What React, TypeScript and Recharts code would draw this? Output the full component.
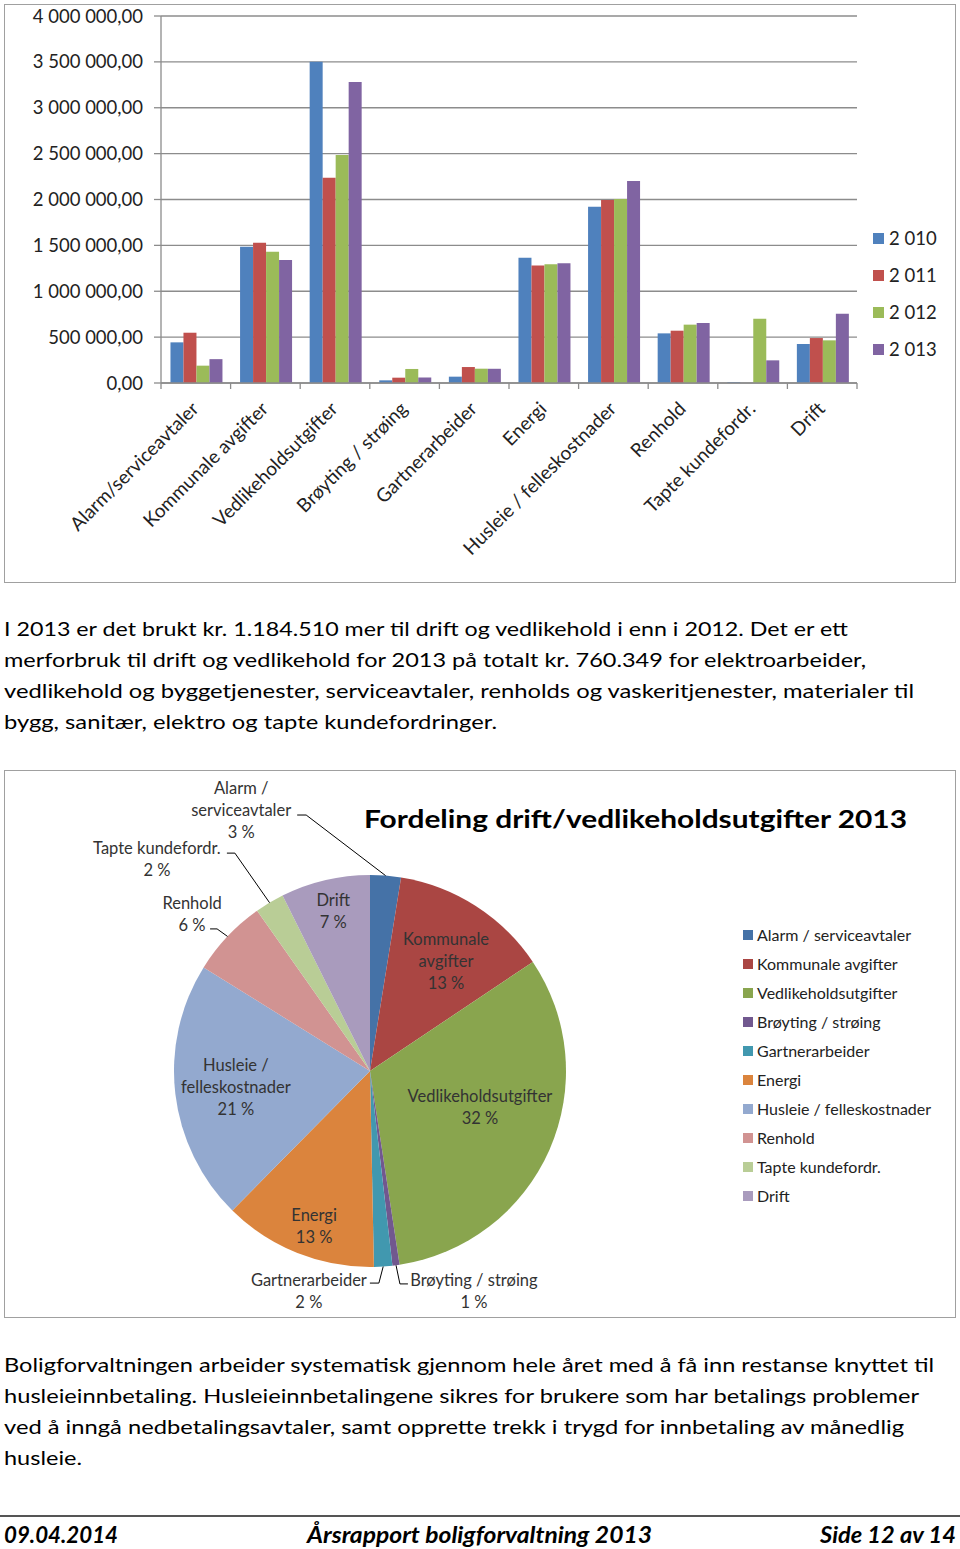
import React from 'react';
import { BarChart, Bar, XAxis, YAxis, CartesianGrid, PieChart, Pie, Cell } from 'recharts';

// ---------- DATA ----------
const categories = [
  'Alarm/serviceavtaler',
  'Kommunale avgifter',
  'Vedlikeholdsutgifter',
  'Brøyting / strøing',
  'Gartnerarbeider',
  'Energi',
  'Husleie / felleskostnader',
  'Renhold',
  'Tapte kundefordr.',
  'Drift',
];
const years = ['2 010', '2 011', '2 012', '2 013'];
const values2010 = [443000, 1486000, 3502000, 29000, 69000, 1366000, 1922000, 541000, 10000, 425000];
const values2011 = [548000, 1529000, 2238000, 58000, 174000, 1282000, 1995000, 570000, 0, 490000];
const values2012 = [189000, 1431000, 2485000, 153000, 156000, 1293000, 2005000, 636000, 701000, 465000];
const values2013 = [260000, 1341000, 3281000, 60000, 155000, 1304000, 2202000, 654000, 247000, 755000];
const yTicks = [0, 500000, 1000000, 1500000, 2000000, 2500000, 3000000, 3500000, 4000000];

const pieNames = [
  'Alarm / serviceavtaler',
  'Kommunale avgifter',
  'Vedlikeholdsutgifter',
  'Brøyting / strøing',
  'Gartnerarbeider',
  'Energi',
  'Husleie / felleskostnader',
  'Renhold',
  'Tapte kundefordr.',
  'Drift',
];
const pieLabelText = [
  ['Alarm /', 'serviceavtaler'],
  ['Kommunale', 'avgifter'],
  ['Vedlikeholdsutgifter'],
  ['Brøyting / strøing'],
  ['Gartnerarbeider'],
  ['Energi'],
  ['Husleie /', 'felleskostnader'],
  ['Renhold'],
  ['Tapte kundefordr.'],
  ['Drift'],
];
const pieTitle = 'Fordeling drift/vedlikeholdsutgifter 2013';

const paragraph1 = [
  'I 2013 er det brukt kr. 1.184.510 mer til drift og vedlikehold i enn i 2012. Det er ett',
  'merforbruk til drift og vedlikehold for 2013 på totalt kr. 760.349 for elektroarbeider,',
  'vedlikehold og byggetjenester, serviceavtaler, renholds og vaskeritjenester, materialer til',
  'bygg, sanitær, elektro og tapte kundefordringer.',
];
const paragraph2 = [
  'Boligforvaltningen arbeider systematisk gjennom hele året med å få inn restanse knyttet til',
  'husleieinnbetaling. Husleieinnbetalingene sikres for brukere som har betalings problemer',
  'ved å inngå nedbetalingsavtaler, samt opprette trekk i trygd for innbetaling av månedlig',
  'husleie.',
];
const footerTexts = ['09.04.2014', 'Årsrapport boligforvaltning 2013', 'Side 12 av 14'];

// ---------- STYLE / LAYOUT ----------
const FONT = 'Lato, "Noto Sans", sans-serif';
const barColors = ['#4F81BD', '#C0504D', '#9BBB59', '#8064A2'];
const pieColors = ['#4572A7', '#AA4643', '#89A54E', '#71588F', '#4198AF', '#DB843D', '#93A9CF', '#D19392', '#B9CD96', '#A99BBD'];
const GRID = '#8c8c8c';
const BAR_W = 960;
const BAR_H = 590;
const Y_AXIS_W = 161;
const BAR_MARGIN = { top: 16, right: 103, bottom: 0, left: 0 };
const PLOT_W = BAR_W - Y_AXIS_W - BAR_MARGIN.right - BAR_MARGIN.left;
const X_AXIS_H = 207;
const PIE_TOP = 770;
const PIE_R = 196;
const RAD = Math.PI / 180;
const LABEL_LH = 22;

const para1Layout = { x: 4, y0: 636, lh: 31, widths: [844, 862, 910, 493] };
const para2Layout = { x: 4, y0: 1372, lh: 31, widths: [930, 915, 900, 78] };

// label layout for the pie (angles clockwise from 12 o'clock)
type LabelCfg =
  | { kind: 'in'; rf: number; da: number }
  | { kind: 'out'; ang: number; rf: number; hook: number; dx: number; dy: number };
const pieLabelLayout: LabelCfg[] = [
  { kind: 'out', ang: 346, rf: 1.346, hook: -9, dx: -65, dy: -5 },
  { kind: 'in', rf: 0.682, da: 2 },
  { kind: 'in', rf: 0.59, da: -5.7 },
  { kind: 'out', ang: 172, rf: 1.097, hook: 8, dx: 74, dy: 7 },
  { kind: 'out', ang: 177.6, rf: 1.083, hook: -9, dx: -70, dy: 8 },
  { kind: 'in', rf: 0.84, da: -1.9 },
  { kind: 'in', rf: 0.689, da: 0 },
  { kind: 'out', ang: 312.9, rf: 1.065, hook: -7, dx: -25, dy: -15 },
  { kind: 'out', ang: 328.2, rf: 1.308, hook: -8, dx: -78, dy: 6 },
  { kind: 'in', rf: 0.838, da: 0.3 },
];

const barData = categories.map((name, i) => ({
  name,
  y2010: values2010[i],
  y2011: values2011[i],
  y2012: values2012[i],
  y2013: values2013[i],
}));
const seriesKeys = ['y2010', 'y2011', 'y2012', 'y2013'];
const pieData = pieNames.map((name, i) => ({ name, value: values2013[i] }));

const fmt = (v: number) => {
  const [i, d] = v.toFixed(2).split('.');
  return i.replace(/\B(?=(\d{3})+(?!\d))/g, ' ') + ',' + d;
};

const XTick = (props: any) => {
  const { x, y, payload, index } = props;
  const bw = PLOT_W / categories.length;
  const ax = x + 4;
  const ay = y + 27;
  return (
    <g>
      <line x1={x - bw / 2} x2={x - bw / 2} y1={y} y2={y + 6} stroke={GRID} strokeWidth={1.3} />
      {index === categories.length - 1 && (
        <line x1={x + bw / 2} x2={x + bw / 2} y1={y} y2={y + 6} stroke={GRID} strokeWidth={1.3} />
      )}
      <text
        x={ax}
        y={ay}
        transform={`rotate(-45 ${ax} ${ay})`}
        textAnchor="end"
        fontSize={19}
        fontFamily={FONT}
        fill="#222"
      >
        {payload.value}
      </text>
    </g>
  );
};

const renderPieLabel = (props: any) => {
  const { cx, cy, midAngle, outerRadius, percent, index } = props;
  const cfg = pieLabelLayout[index];
  const lines = [...pieLabelText[index], `${Math.round(percent * 100)} %`];
  const n = lines.length;
  const pt = (angCw: number, r: number) => [cx + r * Math.sin(angCw * RAD), cy - r * Math.cos(angCw * RAD)];
  const midCw = 90 - midAngle;
  let tx: number;
  let ty: number;
  let leader: React.ReactNode = null;
  if (cfg.kind === 'in') {
    [tx, ty] = pt(midCw + cfg.da, outerRadius * cfg.rf);
  } else {
    const [sx, sy] = pt(midCw, outerRadius);
    const [ex, ey] = pt(cfg.ang, outerRadius * cfg.rf);
    leader = (
      <path d={`M${sx},${sy} L${ex},${ey} L${ex + cfg.hook},${ey}`} fill="none" stroke="#000" strokeWidth={1} />
    );
    tx = ex + cfg.dx;
    ty = ey + cfg.dy;
  }
  return (
    <g key={`lbl-${index}`}>
      {leader}
      <text textAnchor="middle" fontSize={16.5} fontFamily={FONT} fill="#333" dominantBaseline="central">
        {lines.map((l, i) => (
          <tspan key={i} x={tx} y={ty + (i - (n - 1) / 2) * LABEL_LH}>
            {l}
          </tspan>
        ))}
      </text>
    </g>
  );
};

export default function App() {
  return (
    <div style={{ position: 'absolute', left: 0, top: 0, width: 960, height: 1549, background: '#fff', fontFamily: FONT }}>
      {/* bar chart frame */}
      <div style={{ position: 'absolute', left: 4, top: 4, width: 950, height: 577, border: '1.5px solid #a0a0a0' }} />
      <div style={{ position: 'absolute', left: 0, top: 0 }}>
        <BarChart width={BAR_W} height={BAR_H} data={barData} margin={BAR_MARGIN} barCategoryGap="13.6%" barGap={0}>
          <CartesianGrid vertical={false} stroke={GRID} strokeWidth={1.3} />
          <YAxis
            width={Y_AXIS_W}
            domain={[0, 4000000]}
            ticks={yTicks}
            interval={0}
            tickFormatter={fmt}
            tickSize={7}
            tickMargin={11}
            stroke={GRID}
            strokeWidth={1.3}
            tick={{ fill: '#222', fontSize: 18.5, fontFamily: FONT }}
          />
          <XAxis
            dataKey="name"
            height={X_AXIS_H}
            interval={0}
            tickLine={false}
            tickSize={0}
            tickMargin={0}
            stroke={GRID}
            strokeWidth={1.3}
            tick={<XTick />}
          />
          {seriesKeys.map((k, i) => (
            <Bar key={k} dataKey={k} name={years[i]} fill={barColors[i]} isAnimationActive={false} />
          ))}
        </BarChart>
      </div>
      {/* bar legend */}
      {years.map((y, i) => (
        <div key={y} style={{ position: 'absolute', left: 873, top: 238 + i * 37 - 11, height: 22, display: 'flex', alignItems: 'center' }}>
          <div style={{ width: 11, height: 11, background: barColors[i], marginRight: 5 }} />
          <span style={{ fontSize: 18.5, color: '#222', lineHeight: '22px' }}>{y}</span>
        </div>
      ))}

      {/* pie frame */}
      <div style={{ position: 'absolute', left: 4, top: PIE_TOP, width: 950, height: 546, border: '1.5px solid #a0a0a0' }} />
      <div style={{ position: 'absolute', left: 0, top: PIE_TOP }}>
        <PieChart width={960} height={548} margin={{ top: 0, right: 0, bottom: 0, left: 0 }}>
          <Pie
            data={pieData}
            dataKey="value"
            nameKey="name"
            cx={370}
            cy={301}
            outerRadius={PIE_R}
            startAngle={90}
            endAngle={-270}
            stroke="none"
            isAnimationActive={false}
            label={renderPieLabel}
            labelLine={false}
          >
            {pieData.map((d, i) => (
              <Cell key={d.name} fill={pieColors[i]} />
            ))}
          </Pie>
        </PieChart>
      </div>
      {/* pie legend */}
      {pieNames.map((n, i) => (
        <div key={n} style={{ position: 'absolute', left: 743, top: 935 + i * 29 - 10, height: 20, display: 'flex', alignItems: 'center' }}>
          <div style={{ width: 10, height: 10, background: pieColors[i], marginRight: 4 }} />
          <span style={{ fontSize: 16, color: '#222', lineHeight: '20px', whiteSpace: 'nowrap' }}>{n}</span>
        </div>
      ))}

      {/* page texts */}
      <svg width={960} height={1549} style={{ position: 'absolute', left: 0, top: 0, pointerEvents: 'none' }}>
        <text x={364} y={828} fontSize={24} fontWeight={700} fontFamily={FONT} fill="#000" textLength={543} lengthAdjust="spacingAndGlyphs">
          {pieTitle}
        </text>
        {paragraph1.map((l, i) => (
          <text key={`p1-${i}`} x={para1Layout.x} y={para1Layout.y0 + i * para1Layout.lh} fontSize={20} fontFamily={FONT} fill="#000" textLength={para1Layout.widths[i]} lengthAdjust="spacingAndGlyphs">
            {l}
          </text>
        ))}
        {paragraph2.map((l, i) => (
          <text key={`p2-${i}`} x={para2Layout.x} y={para2Layout.y0 + i * para2Layout.lh} fontSize={20} fontFamily={FONT} fill="#000" textLength={para2Layout.widths[i]} lengthAdjust="spacingAndGlyphs">
            {l}
          </text>
        ))}
        <line x1={0} x2={960} y1={1516} y2={1516} stroke="#555" strokeWidth={2} />
        <text x={4} y={1543} fontSize={22} fontWeight={700} fontStyle="italic" fontFamily={FONT} fill="#000" textLength={114} lengthAdjust="spacingAndGlyphs">
          {footerTexts[0]}
        </text>
        <text x={307} y={1543} fontSize={22} fontWeight={700} fontStyle="italic" fontFamily={FONT} fill="#000" textLength={345} lengthAdjust="spacingAndGlyphs">
          {footerTexts[1]}
        </text>
        <text x={820} y={1543} fontSize={22} fontWeight={700} fontStyle="italic" fontFamily={FONT} fill="#000" textLength={136} lengthAdjust="spacingAndGlyphs">
          {footerTexts[2]}
        </text>
      </svg>
    </div>
  );
}
